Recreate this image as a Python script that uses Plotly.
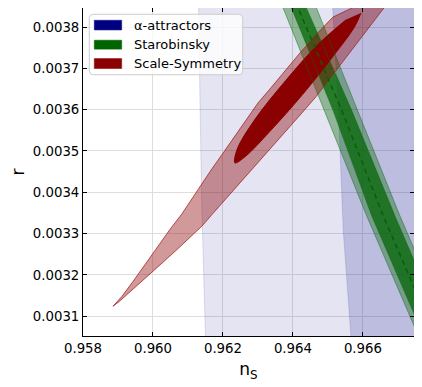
import plotly.graph_objects as go

# alpha-attractors: left boundaries of the 2-sigma and 1-sigma regions (they extend to the right)
alpha2_r = [0.00390, 0.003846, 0.003621, 0.003380, 0.003090, 0.00300]
alpha2_ns = [0.96129, 0.961306, 0.961343, 0.961391, 0.961486, 0.96152]
alpha1_r = [0.00390, 0.003846, 0.003597, 0.003307, 0.003058, 0.00300]
alpha1_ns = [0.96510, 0.965134, 0.965300, 0.965437, 0.965649, 0.96570]
alpha_right_ns = 0.9700

# Starobinsky band, read at a few r levels
staro_r = [0.00390, 0.003845, 0.003597, 0.003343, 0.00300]
staro_center = [0.963897, 0.964151, 0.965400, 0.966580, 0.968326]
staro_2s_lo = [0.963463, 0.963723, 0.964914, 0.966106, 0.967851]
staro_2s_hi = [0.964417, 0.964677, 0.965857, 0.967057, 0.968803]
staro_1s_lo = [0.963709, 0.963963, 0.965151, 0.966249, 0.968000]
staro_1s_hi = [0.964131, 0.964391, 0.965686, 0.966914, 0.968657]

# Scale-Symmetry contours
ss2_ns = [0.958857, 0.959114, 0.959429, 0.959771, 0.960114, 0.960486, 0.960829, 0.961057,
          0.961343, 0.961686, 0.962029, 0.962371, 0.962714, 0.963000, 0.963343, 0.963771,
          0.964200, 0.964657, 0.965143, 0.965686, 0.966057, 0.966429, 0.966771, 0.967000,
          0.966829, 0.966600, 0.966314, 0.965914, 0.965486, 0.965057, 0.964657, 0.964257,
          0.963857, 0.963400, 0.962943, 0.962486, 0.962029, 0.961686, 0.961400, 0.961057,
          0.960657, 0.960200, 0.959771, 0.959343, 0.959029]
ss2_r = [0.003124, 0.003148, 0.003184, 0.003225, 0.003266, 0.003310, 0.003348, 0.003377,
         0.003414, 0.003457, 0.003498, 0.003539, 0.003580, 0.003616, 0.003650, 0.003694,
         0.003737, 0.003781, 0.003824, 0.003846, 0.003882, 0.003911, 0.003916, 0.003897,
         0.003870, 0.003846, 0.003814, 0.003771, 0.003723, 0.003674, 0.003631, 0.003592,
         0.003554, 0.003510, 0.003467, 0.003423, 0.003380, 0.003346, 0.003318, 0.003290,
         0.003259, 0.003224, 0.003191, 0.003158, 0.003135]
ss1_ns = [0.965943, 0.965766, 0.965137, 0.964269, 0.963337, 0.962646, 0.962343, 0.962406,
          0.962920, 0.963789, 0.964720, 0.965526]
ss1_r = [0.003834, 0.003801, 0.003728, 0.003636, 0.003547, 0.003487, 0.003471, 0.003504,
         0.003577, 0.003670, 0.003758, 0.003818]

legend_names = ['α-attractors', 'Starobinsky', 'Scale-Symmetry']
legend_colors = ['#000080', '#006400', '#8b0000']

fig = go.Figure()

fig.add_trace(go.Scatter(
    x=alpha2_ns + [alpha_right_ns, alpha_right_ns], y=alpha2_r + [alpha2_r[-1], alpha2_r[0]],
    fill='toself', fillcolor='rgba(0,0,128,0.105)', mode='lines',
    line=dict(color='rgba(0,0,128,0.12)', width=1), hoverinfo='skip'))
fig.add_trace(go.Scatter(
    x=alpha1_ns + [alpha_right_ns, alpha_right_ns], y=alpha1_r + [alpha1_r[-1], alpha1_r[0]],
    fill='toself', fillcolor='rgba(0,0,128,0.167)', mode='lines',
    line=dict(color='rgba(0,0,128,0.12)', width=1), hoverinfo='skip'))

# Starobinsky fills
fig.add_trace(go.Scatter(
    x=staro_2s_lo + staro_2s_hi[::-1], y=staro_r + staro_r[::-1],
    fill='toself', fillcolor='rgba(0,100,0,0.37)', mode='lines', line=dict(width=0), hoverinfo='skip'))
fig.add_trace(go.Scatter(
    x=staro_1s_lo + staro_1s_hi[::-1], y=staro_r + staro_r[::-1],
    fill='toself', fillcolor='rgba(0,100,0,0.72)', mode='lines', line=dict(width=0), hoverinfo='skip'))

# Scale-Symmetry fills
fig.add_trace(go.Scatter(
    x=ss2_ns + ss2_ns[:1], y=ss2_r + ss2_r[:1], fill='toself', fillcolor='rgba(139,0,0,0.4)',
    mode='lines', line=dict(color='rgba(160,30,30,0.75)', width=1), hoverinfo='skip'))
fig.add_trace(go.Scatter(
    x=ss1_ns, y=ss1_r, fill='toself', fillcolor='#8b0000', mode='lines',
    line=dict(color='#8b0000', width=1, shape='spline', smoothing=1.0), hoverinfo='skip'))

# Starobinsky edges and centre line on top
for edge in (staro_2s_lo, staro_2s_hi, staro_1s_lo, staro_1s_hi):
    fig.add_trace(go.Scatter(x=edge, y=staro_r, mode='lines',
                             line=dict(color='rgba(0,110,0,0.45)', width=1), hoverinfo='skip'))
fig.add_trace(go.Scatter(x=staro_center, y=staro_r, mode='lines',
                         line=dict(color='#006400', width=1.5, dash='5px,4px'), hoverinfo='skip'))

# legend drawn by hand (matplotlib look, rounded frame)
lx0, lx1, ly0, ly1, rx, ry = 0.019, 0.4825, 0.7964, 0.9809, 0.012, 0.012
legend_path = (f'M{lx0 + rx},{ly0} L{lx1 - rx},{ly0} Q{lx1},{ly0} {lx1},{ly0 + ry} '
               f'L{lx1},{ly1 - ry} Q{lx1},{ly1} {lx1 - rx},{ly1} L{lx0 + rx},{ly1} '
               f'Q{lx0},{ly1} {lx0},{ly1 - ry} L{lx0},{ly0 + ry} Q{lx0},{ly0} {lx0 + rx},{ly0} Z')
fig.add_shape(type='path', xref='paper', yref='paper', path=legend_path,
              fillcolor='rgba(255,255,255,0.8)', line=dict(color='#cccccc', width=1))
patch_y = [(0.9331, 0.9626), (0.8745, 0.9018), (0.8155, 0.8459)]
text_y = [0.9477, 0.8881, 0.8304]
for name, col, (y0, y1), ty in zip(legend_names, legend_colors, patch_y, text_y):
    fig.add_shape(type='rect', xref='paper', yref='paper', x0=0.0341, x1=0.1169, y0=y0, y1=y1,
                  fillcolor=col, line=dict(color=col, width=0.5))
    fig.add_annotation(x=0.1471, y=ty, xref='paper', yref='paper', text=name, showarrow=False,
                       xanchor='left', yanchor='middle', font=dict(size=13, color='black'))

axis_common = dict(showline=True, linecolor='black', linewidth=1, mirror='allticks',
                   ticks='inside', ticklen=4, tickcolor='black', showgrid=True,
                   gridcolor='#dedede', gridwidth=1, zeroline=False,
                   tickfont=dict(size=13.3, color='black'))

# page body adds an 8px margin, so the figure is 8px smaller than the window
fig.update_layout(
    width=414, height=379,
    margin=dict(l=75, r=8, t=0, b=51),
    paper_bgcolor='white', plot_bgcolor='white',
    showlegend=False,
    font=dict(family='DejaVu Sans', color='black'),
    xaxis=dict(range=[0.958, 0.96746], tick0=0.958, dtick=0.002, tickformat='.3f',
               title=dict(text='n<sub>S</sub>', font=dict(size=17), standoff=8), **axis_common),
    yaxis=dict(range=[0.003052, 0.003846], tick0=0.0031, dtick=0.0001, tickformat='.4f',
               title=dict(text='r', font=dict(size=17), standoff=14), **axis_common),
)

fig.write_html("out.html")
